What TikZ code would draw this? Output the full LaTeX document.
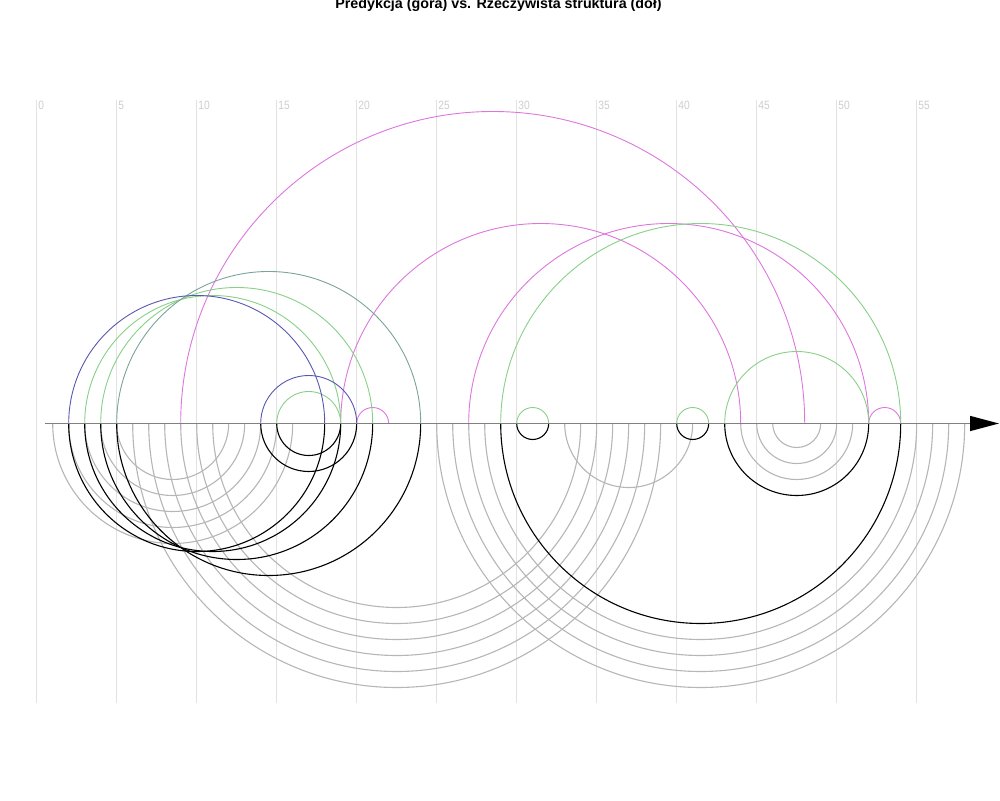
\documentclass[tikz,border=0pt]{standalone}
\usepackage{fontspec}
\setmainfont{Liberation Sans}
\usetikzlibrary{arrows.meta}
\definecolor{arcblue}{RGB}{88,88,176}
\definecolor{arcgreen}{RGB}{136,208,136}
\definecolor{arcteal}{RGB}{122,164,152}
\definecolor{arcmag}{RGB}{222,118,222}
\definecolor{arcgray}{RGB}{182,182,182}
\definecolor{gridgray}{RGB}{226,226,226}
\definecolor{labgray}{RGB}{205,205,205}
\definecolor{axisgray}{RGB}{128,128,128}
\tikzset{
  gridline/.style={draw=gridgray,line width=1pt},
  gridlabel/.style={text=labgray,font=\fontsize{12}{13}\selectfont,anchor=west,inner sep=0pt,xscale=0.85},
  toparc/.style={line width=0.9pt},
  realarc/.style={line width=1.1pt},
  axisline/.style={draw=axisgray,line width=1.4pt},
  titletext/.style={font=\bfseries\fontsize{14.3}{16}\selectfont,anchor=base,inner sep=0pt}
}
\begin{document}
\begin{tikzpicture}[x=1pt,y=1pt]
\useasboundingbox (0,-376.5) rectangle (1000,423.5);
% grid
\foreach \k in {0,5,...,55}{
  \pgfmathsetmacro\gx{36.7+16*\k}
  \draw[gridline] (\gx,323.5) -- (\gx,-279.5);
  \node[gridlabel] (lab\k) at (\gx+1.6,318.5) {\k};
}
% title
\node[titletext] (title) at (498.5,415) {Predykcja (góra) vs. Rzeczywista struktura (dół)};
% real structure (bottom) gray
\foreach \a/\b in {1/16,2/15,3/14,4/13,5/12,6/39,7/38,8/37,9/36,10/35,11/34,33/41,44/51,45/50,46/49,25/58,26/57,27/56,28/55}{
  \pgfmathsetmacro\xa{36.7+16*\a}
  \pgfmathsetmacro\rr{8*(\b-\a)}
  \draw[realarc,arcgray] (\xa,0) arc[start angle=180,end angle=360,radius=\rr pt];
}
% real structure (bottom) black
\foreach \a/\b in {2/18,3/19,4/21,5/24,14/20,15/19,29/54,30/32,40/42,43/52}{
  \pgfmathsetmacro\xa{36.7+16*\a}
  \pgfmathsetmacro\rr{8*(\b-\a)}
  \draw[realarc,black] (\xa,0) arc[start angle=180,end angle=360,radius=\rr pt];
}
% prediction (top)
\foreach \a/\b/\c in {9/48/arcmag,19/44/arcmag,27/52/arcmag,20/22/arcmag,52/54/arcmag,
  3/19/arcgreen,4/21/arcgreen,15/19/arcgreen,29/54/arcgreen,30/32/arcgreen,40/42/arcgreen,43/52/arcgreen,
  5/24/arcteal,2/18/arcblue,14/20/arcblue}{
  \pgfmathsetmacro\xa{36.7+16*\a}
  \pgfmathsetmacro\rr{8*(\b-\a)}
  \draw[toparc,\c] (\xa,0) arc[start angle=180,end angle=0,radius=\rr pt];
}
% axis
\coordinate (axstart) at (45,0);
\coordinate (axend) at (999,0);
\draw[axisline,-{Triangle[length=29pt,width=15pt,color=black]}] (axstart) -- (axend);
\end{tikzpicture}
\end{document}
